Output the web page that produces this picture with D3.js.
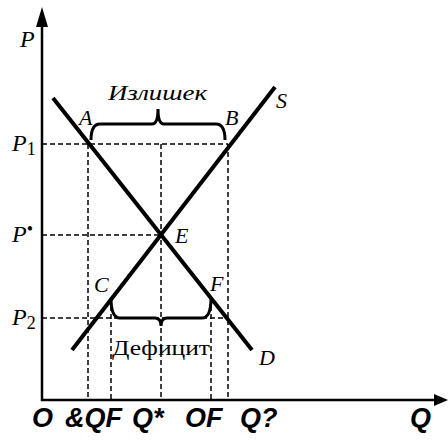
<!DOCTYPE html>
<html>
<head>
<meta charset="utf-8">
<script src="https://cdn.jsdelivr.net/npm/d3@7"></script>
<style>
  html, body { margin: 0; padding: 0; background: #fff; }
  svg { display: block; }
</style>
</head>
<body>
<div id="chart"></div>
<script>
// price levels on the P axis
const priceNames = ['P', 'P', 'P'];
const priceSubs = ['1', '•', '2'];
const priceLevels = [64, 41.25, 20.5];

// demand and supply lines, [q, p]
const demandLine = [[2.75, 75.5], [52.5, 12.5]];
const supplyLine = [[7.5, 12.5], [58.25, 78.25]];

// named points
const pointNames = ['A', 'B', 'E', 'C', 'F'];
const pointQ = [11.5, 46.5, 29.75, 17.25, 42.25];
const pointP = [64, 64, 41.25, 25.5, 25.5];

// bottom labels
const qLabels = ['O', '&QF', 'Q*', 'OF', 'Q?'];
const qLabelPos = [-2.5, 5.75, 22.5, 35.75, 49.5];

const width = 448, height = 441;
const margin = {left: 42, top: 0, right: 6, bottom: 41};
const serif = '"Liberation Serif"';
const sans = '"Liberation Sans"';

const svg = d3.select('#chart').append('svg')
  .attr('width', width).attr('height', height);

const x = d3.scaleLinear().domain([0, 100]).range([margin.left, margin.left + 400]);
const y = d3.scaleLinear().domain([0, 100]).range([height - margin.bottom, height - margin.bottom - 400]);

// dashed guide lines
const dash = svg.append('g')
  .attr('stroke', '#000').attr('stroke-width', 1.5)
  .attr('stroke-dasharray', '5,3').attr('fill', 'none');

const hEnds = [pointQ[1], pointQ[2], pointQ[1]];
priceLevels.forEach((p, i) => {
  dash.append('line')
    .attr('x1', x(0)).attr('x2', x(hEnds[i]))
    .attr('y1', y(p)).attr('y2', y(p));
});
const vTops = [pointP[0], pointP[3], pointP[0], pointP[4], pointP[1]];
[pointQ[0], pointQ[3], pointQ[2], pointQ[4], pointQ[1]].forEach((q, i) => {
  dash.append('line')
    .attr('x1', x(q)).attr('x2', x(q))
    .attr('y1', y(vTops[i])).attr('y2', y(0));
});

// axes
svg.append('line')
  .attr('x1', x(0)).attr('y1', y(0) + 1).attr('x2', x(0)).attr('y2', 22)
  .attr('stroke', '#000').attr('stroke-width', 2.5);
svg.append('path')
  .attr('d', `M${x(0)},7 L${x(0) - 6},27 L${x(0) + 6},27 Z`)
  .attr('fill', '#000');
svg.append('line')
  .attr('x1', x(0) - 1).attr('y1', y(0)).attr('x2', width - 10).attr('y2', y(0))
  .attr('stroke', '#000').attr('stroke-width', 2.5);
svg.append('path')
  .attr('d', `M${width},${y(0)} L${width - 14},${y(0) - 6} L${width - 14},${y(0) + 6} Z`)
  .attr('fill', '#000');

// demand & supply
const line = d3.line().x(d => x(d[0])).y(d => y(d[1]));
[demandLine, supplyLine].forEach(d => {
  svg.append('path')
    .attr('d', line(d))
    .attr('stroke', '#000').attr('stroke-width', 4).attr('fill', 'none');
});

// braces
function brace(x0, x1, yBase, yFlat, yTip) {
  const xm = (x0 + x1) / 2;
  const p = d3.path();
  p.moveTo(x0, yBase);
  p.quadraticCurveTo(x0, yFlat, x0 + 9, yFlat);
  p.lineTo(xm - 6, yFlat);
  p.quadraticCurveTo(xm, yFlat, xm, yTip);
  p.quadraticCurveTo(xm, yFlat, xm + 6, yFlat);
  p.lineTo(x1 - 9, yFlat);
  p.quadraticCurveTo(x1, yFlat, x1, yBase);
  return p.toString();
}
svg.append('path')
  .attr('d', brace(x(pointQ[0]) + 3, x(pointQ[1]) - 3, y(pointP[0]) - 4, y(pointP[0]) - 20, y(pointP[0]) - 35))
  .attr('stroke', '#000').attr('stroke-width', 3).attr('fill', 'none');
svg.append('path')
  .attr('d', brace(x(pointQ[3]), x(pointQ[4]), y(pointP[3]), y(priceLevels[2]), y(priceLevels[2]) + 8))
  .attr('stroke', '#000').attr('stroke-width', 3).attr('fill', 'none');

svg.append('text')
  .attr('x', 108).attr('y', 100)
  .style('font-family', serif).style('font-style', 'italic').style('font-size', '22px')
  .attr('textLength', 99).attr('lengthAdjust', 'spacingAndGlyphs')
  .text('Излишек');
svg.append('text')
  .attr('x', 112).attr('y', 355)
  .style('font-family', serif).style('font-size', '22px')
  .attr('textLength', 98).attr('lengthAdjust', 'spacingAndGlyphs')
  .text('Дефицит');

// point labels
const labelDx = [-9, -3, 14, -17, -1];
const labelDy = [-19, -19, 8, -6, -7];
pointNames.forEach((n, i) => {
  svg.append('text')
    .style('font-family', serif).style('font-style', 'italic').style('font-size', '22px')
    .attr('x', x(pointQ[i]) + labelDx[i]).attr('y', y(pointP[i]) + labelDy[i])
    .text(n);
});
svg.append('text')
  .style('font-family', serif).style('font-style', 'italic').style('font-size', '22px')
  .attr('x', x(supplyLine[1][0]) + 1).attr('y', y(supplyLine[1][1]) + 21)
  .text('S');
svg.append('text')
  .style('font-family', serif).style('font-style', 'italic').style('font-size', '22px')
  .attr('x', x(demandLine[1][0]) + 7).attr('y', y(demandLine[1][1]) + 15)
  .text('D');

// P axis labels
svg.append('text')
  .style('font-family', serif).style('font-style', 'italic').style('font-size', '24px')
  .attr('x', 20).attr('y', 47).text('P');
priceLevels.forEach((p, i) => {
  const t = svg.append('text')
    .style('font-family', serif).style('font-style', 'italic').style('font-size', '24px')
    .attr('x', 12).attr('y', y(p) + 7);
  t.append('tspan').text(priceNames[i]);
  t.append('tspan')
    .style('font-style', 'normal')
    .style('font-size', '18px')
    .attr('dy', i === 1 ? -7 : 4)
    .text(priceSubs[i]);
});

// Q axis labels
qLabels.forEach((t, i) => {
  svg.append('text')
    .style('font-family', sans).style('font-weight', 'bold')
    .style('font-style', 'italic').style('font-size', '27px')
    .attr('x', x(qLabelPos[i])).attr('y', 427).text(t);
});
svg.append('text')
  .style('font-family', sans).style('font-weight', 'bold')
  .style('font-style', 'italic').style('font-size', '27px')
  .attr('x', x(92)).attr('y', 427).text('Q');
</script>
</body>
</html>
